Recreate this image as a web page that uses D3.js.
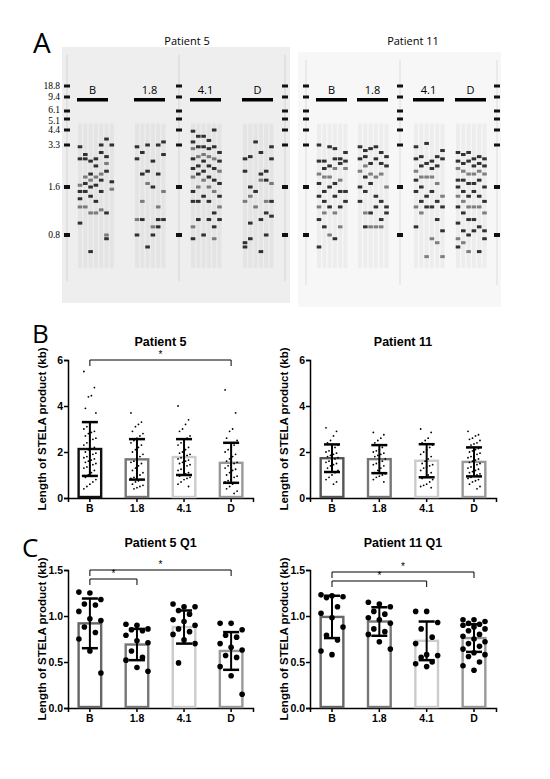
<!DOCTYPE html>
<html><head><meta charset="utf-8">
<script src="https://cdn.jsdelivr.net/npm/d3@7"></script>
<style>body{margin:0;background:#fff}svg{display:block}</style>
</head><body>
<script>
// ---------- DATA ----------
const categories = ["B","1.8","4.1","D"];
const markerKb = [18.8,9.4,6.1,5.1,4.4,3.3,1.6,0.8];
const markerLabels = ["18.8","9.4","6.1","5.1","4.4","3.3","1.6","0.8"];
// gel lanes: band sizes (kb) per lane, per group
const gelP5 = [
 [[3.2,2.6,1.65,1.5,1.35,1.2,0.95],[2.8,2.6,1.9,1.7,1.5,1.2],[2.5,2.0,1.8,1.6,1.4,1.1,0.6],[2.6,2.3,1.9,1.65,1.3,1.1],[3.3,2.9,2.0,1.8,1.5,1.15],[3.7,2.7,2.4,2.1,1.1,0.8,0.75],[3.3,1.75,1.55]],
 [[3.2,2.6,1.0,0.8],[2.9,2.0,1.3,1.0],[3.3,2.1,1.7,0.65],[2.5,1.6,0.9,0.8],[3.3,2.0,1.2,1.0,0.9],[3.5,2.8,1.5,1.0]],
 [[4.3,3.5,3.1,2.6,2.2,1.9,1.5,1.3,0.9,0.75],[3.9,3.2,2.7,2.3,2.0,1.6,1.3,1.0],[3.9,3.2,2.8,2.5,2.1,1.8,1.4,0.8],[3.6,3.1,2.7,2.3,1.9,1.6,1.3,1.0],[4.4,3.2,2.6,2.2,1.8,1.5,1.1,0.9,0.75],[2.9,2.5,2.1,1.7,1.4,1.2,1.0]],
 [[2.6,2.1,1.3,0.7,0.65],[2.7,1.6,1.4,0.95,0.75],[3.5,1.5,1.2],[2.9,2.0,1.8,1.0,0.6],[2.1,1.8,1.3,1.1,0.8],[3.2,2.6,1.7,1.3,1.05]]
];
const gelP11 = [
 [[3.3,2.5,2.0,1.7,1.4,1.2,1.0,0.65],[2.5,2.2,1.9,1.5,1.3,1.1,0.9],[3.2,2.3,1.9,1.6,1.2,0.8],[3.1,2.6,2.2,1.7,1.4,1.1,0.75],[2.6,2.4,1.8,1.5,1.2,0.9],[2.9,2.5,2.2,1.5,1.3]],
 [[3.2,2.6,2.1,1.6,1.3],[3.0,2.7,2.3,1.9,1.5,1.1,0.9],[3.1,2.4,2.0,1.7,1.1,0.9],[3.2,2.6,1.9,1.4,1.2,0.9],[2.9,2.4,2.0,1.3,1.0,0.9],[2.7,2.3,1.6,1.2,1.1]],
 [[3.2,2.6,2.1,1.8,1.5,1.2,0.9],[2.7,2.3,1.9,1.6,1.3,1.1],[3.4,2.4,1.9,1.4,1.2,0.55],[2.5,2.2,1.9,1.5,1.2,0.75],[2.7,2.3,1.7,1.3,1.0,0.7],[3.0,2.6,1.4,1.2,0.85,0.55]],
 [[2.9,2.5,2.2,1.8,1.6,1.4,1.2,0.95,0.75,0.65],[2.8,2.4,2.1,1.8,1.5,1.3,1.1,0.85,0.7],[2.9,2.5,2.0,1.7,1.4,1.2,1.0,0.8,0.6],[2.6,2.3,2.0,1.7,1.5,1.2,1.0,0.85],[2.7,2.4,2.1,1.8,1.4,1.2,0.9,0.6],[2.6,2.3,2.0,1.6,1.3,1.1,0.85,0.75]]
];
// Panel B: all STELA product lengths (kb)
const p5B  = [5.5,4.8,4.45,4.4,3.9,3.7,3.3,3.2,3.1,3.0,2.9,2.85,2.8,2.7,2.6,2.55,2.5,2.4,2.3,2.2,2.15,2.1,2.0,1.95,1.9,1.85,1.8,1.75,1.7,1.65,1.6,1.55,1.5,1.45,1.4,1.35,1.3,1.2,1.1,1.0,0.9,0.8,0.7,0.6,0.5,0.4];
const p5_18 = [3.7,3.3,3.2,3.1,2.9,2.8,2.7,2.6,2.5,2.4,2.3,2.2,2.1,2.0,1.9,1.8,1.7,1.6,1.55,1.5,1.4,1.3,1.2,1.1,1.0,0.95,0.9,0.85,0.8,0.75,0.7,0.6,0.55,0.5,0.45,0.4];
const p5_41 = [4.0,3.4,3.2,3.0,2.9,2.7,2.6,2.5,2.4,2.3,2.2,2.1,2.0,1.95,1.9,1.85,1.8,1.75,1.7,1.65,1.6,1.55,1.5,1.45,1.4,1.3,1.25,1.2,1.1,1.05,1.0,0.95,0.9,0.85,0.8,0.7,0.6,0.5];
const p5_D = [4.7,3.7,3.0,2.9,2.6,2.5,2.3,2.2,2.1,2.0,1.9,1.8,1.7,1.6,1.55,1.5,1.45,1.4,1.3,1.25,1.2,1.1,1.0,0.95,0.9,0.8,0.75,0.7,0.65,0.6,0.5,0.4,0.3,0.2];
const p11B = [3.05,2.9,2.7,2.5,2.4,2.3,2.2,2.1,2.05,2.0,1.95,1.9,1.85,1.8,1.75,1.7,1.65,1.6,1.55,1.5,1.45,1.4,1.3,1.2,1.1,1.0,0.9,0.8,0.7,0.6];
const p11_18 = [2.85,2.75,2.6,2.5,2.4,2.3,2.2,2.1,2.05,2.0,1.95,1.9,1.85,1.8,1.7,1.6,1.55,1.5,1.45,1.4,1.3,1.2,1.1,1.05,1.0,0.95,0.9,0.8,0.7];
const p11_41 = [3.0,2.85,2.6,2.5,2.4,2.3,2.2,2.1,2.0,1.9,1.8,1.7,1.6,1.5,1.45,1.4,1.35,1.3,1.2,1.1,1.0,0.9,0.85,0.8,0.7,0.6,0.55,0.5,0.45];
const p11_D = [2.9,2.75,2.7,2.6,2.55,2.5,2.4,2.35,2.3,2.2,2.15,2.1,2.05,2.0,1.95,1.9,1.85,1.8,1.75,1.7,1.65,1.6,1.55,1.5,1.45,1.4,1.35,1.3,1.25,1.2,1.15,1.1,1.05,1.0,0.95,0.9,0.85,0.8,0.75,0.7,0.6,0.5,0.4];
const meanB5 = [2.13,1.68,1.78,1.53], sdB5 = [1.17,0.88,0.78,0.87];
const meanB11 = [1.73,1.69,1.62,1.57], sdB11 = [0.6,0.61,0.72,0.63];
// Panel C: Q1 values
const q5 = [
 [1.26,1.25,1.18,1.13,1.12,1.05,0.97,0.95,0.88,0.82,0.75,0.62,0.38],
 [0.91,0.90,0.86,0.85,0.84,0.79,0.73,0.71,0.62,0.55,0.52,0.44,0.40],
 [1.13,1.10,1.10,1.06,1.02,0.96,0.94,0.90,0.86,0.83,0.80,0.74,0.70,0.49],
 [0.92,0.92,0.85,0.79,0.77,0.70,0.66,0.63,0.57,0.55,0.45,0.35,0.15]];
const q11 = [
 [1.23,1.22,1.21,1.20,1.10,1.03,0.98,0.88,0.79,0.74,0.62,0.58],
 [1.15,1.13,1.10,1.05,1.02,0.98,0.96,0.92,0.86,0.83,0.80,0.72,0.64],
 [1.05,1.05,0.93,0.86,0.77,0.70,0.58,0.57,0.55,0.50,0.48,0.45],
 [0.96,0.96,0.94,0.92,0.91,0.90,0.88,0.86,0.84,0.80,0.78,0.75,0.72,0.70,0.67,0.64,0.60,0.58,0.56,0.50,0.46,0.41]];
const meanC5 = [0.92,0.69,0.88,0.62], sdC5 = [0.27,0.17,0.18,0.205];
const meanC11 = [0.99,0.94,0.73,0.76], sdC11 = [0.23,0.155,0.21,0.15];

// ---------- DRAW ----------
const svg = d3.select("body").append("svg").attr("width",550).attr("height",779);
const FONT = "'Liberation Sans', Arial, sans-serif";
const LFONT = "'Open Sans', 'DejaVu Sans', sans-serif";

// Panel A
svg.append("text").attr("x",33).attr("y",53).attr("font-family",LFONT).attr("font-size",28).text("A");
const gy = d3.scaleLog().domain([18.8,9.4,6.1,5.1,4.4,3.3,1.6,0.8,0.4]).range([86,97,111,119,130,145,187,235,275]);
function gel(x0,x1,y0,y1,bg,title,tx,ladders,groupStarts,data){
  svg.append("rect").attr("x",x0).attr("y",y0).attr("width",x1-x0).attr("height",y1-y0).attr("fill",bg);
  svg.append("text").attr("x",tx).attr("y",45).attr("text-anchor","middle").attr("font-family",LFONT).attr("font-size",11).text(title);
  ladders.forEach(lx=>{
    svg.append("rect").attr("x",lx-1).attr("y",y0+8).attr("width",2).attr("height",y1-y0-30).attr("fill","#000").attr("opacity",0.05);
    markerKb.forEach((k,i)=>svg.append("rect").attr("x",lx-3).attr("y",gy(k)-(k===1.6||k===0.8?2:1.5)).attr("width",6)
      .attr("height",k===1.6||k===0.8?4:3).attr("fill","#111"));
  });
  groupStarts.forEach((gx,gi)=>{
    svg.append("rect").attr("x",gx).attr("y",98).attr("width",31).attr("height",3.5).attr("fill","#000");
    svg.append("text").attr("x",gx+15.5).attr("y",94).attr("text-anchor","middle").attr("font-family",LFONT).attr("font-size",11).text(categories[gi]);
    data[gi].forEach((lane,li)=>{
      const lx = gx+3+li*5.3;
      svg.append("rect").attr("x",lx-2).attr("y",gy(4.8)).attr("width",4).attr("height",gy(0.45)-gy(4.8)).attr("fill","#000").attr("opacity",0.04);
      lane.forEach((k,bi)=>svg.append("rect").attr("x",lx-2.3).attr("y",gy(k)-1.5).attr("width",4.6).attr("height",3)
        .attr("fill","#111").attr("opacity",bi%3===2?0.5:0.85));
    });
  });
}
gel(62,290,47,303,"#eeeeee","Patient 5",187,[67,179,285],[77,134,190,242],gelP5);
gel(298,501,52,307,"#f7f7f7","Patient 11",413,[306,400,497],[316,357,413,455],gelP11);
const labelNudge = [0,0,-1.5,1.5,0,0,0,0];
markerKb.forEach((k,i)=>svg.append("text").attr("x",60).attr("y",gy(k)+3+labelNudge[i]).attr("text-anchor","end")
  .attr("font-family","'Liberation Serif', serif").attr("font-size",9.5).text(markerLabels[i]));

// Bar charts
const barColors = {
  B5:["#111","#777","#ccc","#999"], B11:["#555","#777","#ccc","#999"],
  C:["#666","#777","#ccc","#999"]
};
function chart(o){
  const g = svg.append("g");
  const x = d3.scaleBand().domain(categories).range([o.x0,o.x1]).paddingInner(0.47).paddingOuter(0.2);
  const y = d3.scaleLinear().domain(o.dom).range([o.yb,o.yt]);
  g.append("text").attr("x",(o.x0+o.x1)/2).attr("y",o.titleY).attr("text-anchor","middle")
    .attr("font-family",FONT).attr("font-weight","bold").attr("font-size",12.5).text(o.title);
  g.append("text").attr("transform",`translate(${o.x0-22},${(o.yt+o.yb)/2})rotate(-90)`).attr("text-anchor","middle")
    .attr("font-family",FONT).attr("font-weight","bold").attr("font-size",11.5).text("Length of  STELA product (kb)");
  const ya = g.append("g").attr("transform",`translate(${o.x0},0)`).call(d3.axisLeft(y).tickValues(o.ticks).tickFormat(o.fmt).tickSize(4));
  const xa = g.append("g").attr("transform",`translate(0,${o.yb})`).call(d3.axisBottom(x).tickSize(4));
  [ya,xa].forEach(a=>{a.selectAll("path,line").attr("stroke","#000").attr("stroke-width",1.5);
    a.selectAll("text").attr("font-family",FONT).attr("font-weight","bold").attr("font-size",10.5).attr("fill","#000");});
  ya.selectAll("text").attr("dx",2);
  o.vals.forEach((vs,i)=>{
    const c = categories[i], cx = x(c)+x.bandwidth()/2;
    g.append("rect").attr("x",x(c)+1.2).attr("y",y(o.mean[i])).attr("width",x.bandwidth()-2.4).attr("height",o.yb-y(o.mean[i])-1)
      .attr("fill","#fff").attr("stroke",o.colors[i]).attr("stroke-width",2.4);
    vs.forEach((v,j)=>{
      const off = (((j*7)%o.spreadN)/(o.spreadN-1)-0.5)*o.spread;
      g.append("circle").attr("cx",cx+off).attr("cy",y(v)).attr("r",o.r).attr("fill","#000");
    });
    const lo=o.mean[i]-o.sd[i], hi=o.mean[i]+o.sd[i];
    g.append("line").attr("x1",cx).attr("x2",cx).attr("y1",y(lo)).attr("y2",y(hi)).attr("stroke","#000").attr("stroke-width",2);
    [lo,hi].forEach(v=>g.append("line").attr("x1",cx-8).attr("x2",cx+8).attr("y1",y(v)).attr("y2",y(v)).attr("stroke","#000").attr("stroke-width",2.5));
  });
  o.sig.forEach(s=>{
    const a = x(categories[s[0]])+x.bandwidth()/2, b = x(categories[s[1]])+x.bandwidth()/2, yy = s[2];
    g.append("path").attr("d",`M${a},${yy+6}V${yy}H${b}V${yy+6}`).attr("fill","none").attr("stroke","#000").attr("stroke-width",1);
    g.append("text").attr("x",(a+b)/2).attr("y",yy-2).attr("text-anchor","middle").attr("font-family",FONT).attr("font-size",10).attr("fill","#000").text("*");
  });
}
svg.append("text").attr("x",32).attr("y",343).attr("font-family",LFONT).attr("font-size",26).text("B");
svg.append("text").attr("x",22).attr("y",557).attr("font-family",LFONT).attr("font-size",26).text("C");
const Bcommon = {dom:[0,6],ticks:[0,2,4,6],fmt:d3.format("d"),yb:498,yt:360,titleY:346,r:0.9,spread:12,spreadN:9};
chart({...Bcommon,x0:68,x1:253,title:"Patient 5",vals:[p5B,p5_18,p5_41,p5_D],mean:meanB5,sd:sdB5,colors:barColors.B5,sig:[[0,3,360]]});
chart({...Bcommon,x0:310,x1:496,title:"Patient 11",vals:[p11B,p11_18,p11_41,p11_D],mean:meanB11,sd:sdB11,colors:barColors.B11,sig:[]});
const Ccommon = {dom:[0,1.5],ticks:[0,0.5,1,1.5],fmt:d3.format(".1f"),yb:708,yt:570,titleY:547,r:2.8,spread:22,spreadN:5};
chart({...Ccommon,x0:68,x1:253,title:"Patient 5 Q1",vals:q5,mean:meanC5,sd:sdC5,colors:barColors.C,sig:[[0,3,570],[0,1,579]]});
chart({...Ccommon,x0:310,x1:496,title:"Patient 11 Q1",vals:q11,mean:meanC11,sd:sdC11,colors:barColors.C,sig:[[0,3,572],[0,2,581]]});
</script>
</body></html>
